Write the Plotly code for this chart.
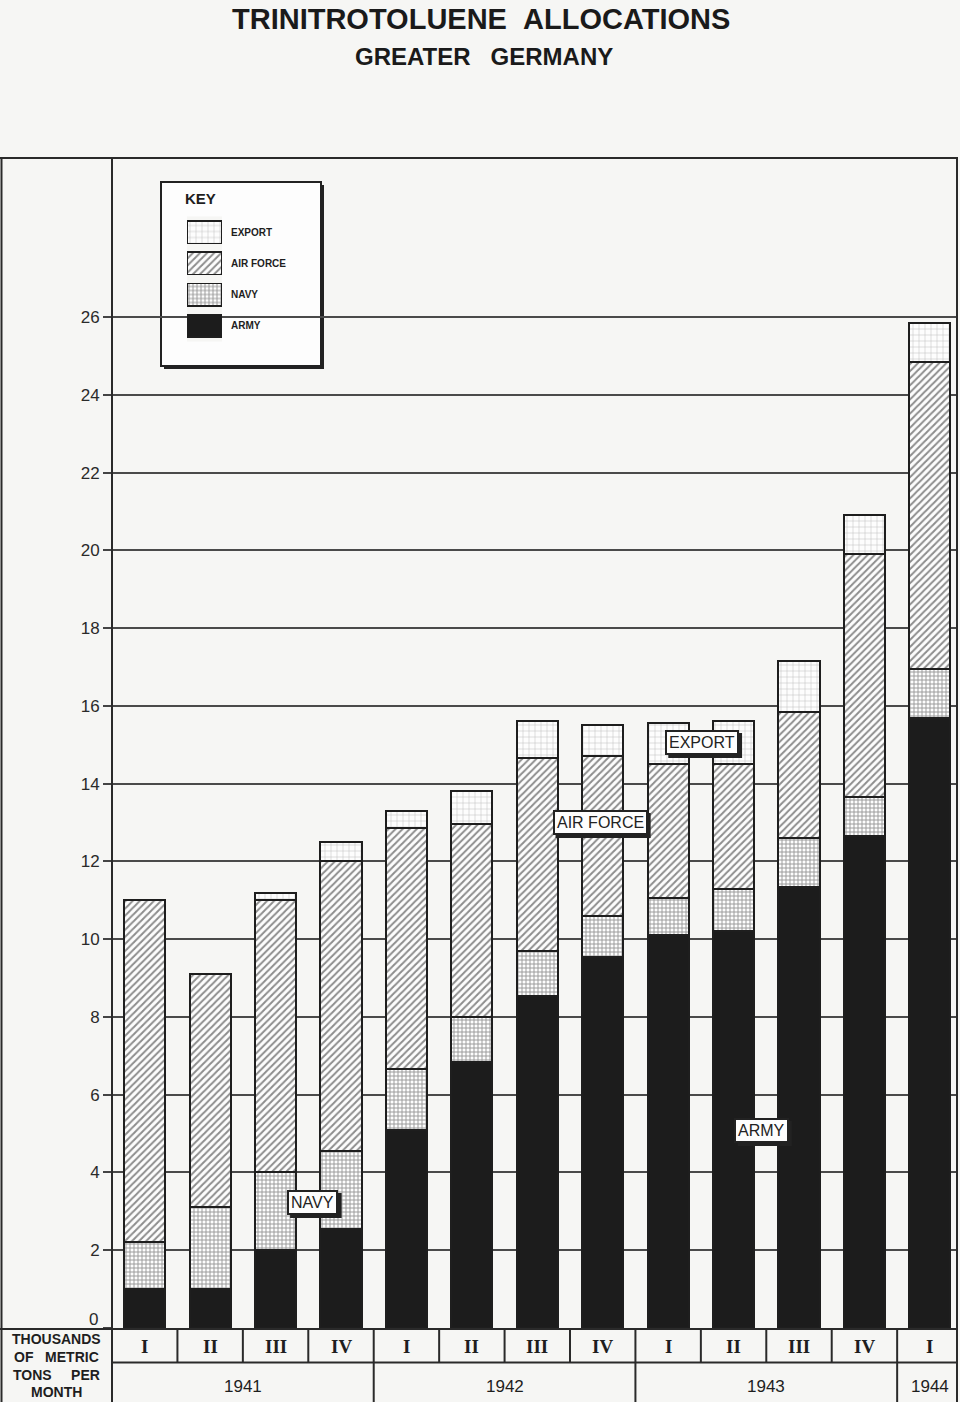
import plotly.graph_objects as go

# ---------------- data ----------------
quarters = ["I", "II", "III", "IV", "I", "II", "III", "IV", "I", "II", "III", "IV", "I"]
years = ["1941", "1942", "1943", "1944"]
year_quarter_counts = [4, 4, 4, 1]
army = [1.0, 1.0, 2.0, 2.55, 5.1, 6.85, 8.55, 9.55, 10.1, 10.2, 11.35, 12.65, 15.7]
navy = [1.2, 2.1, 2.0, 2.0, 1.55, 1.15, 1.15, 1.05, 0.95, 1.1, 1.25, 1.0, 1.25]
air_force = [8.8, 6.0, 7.0, 7.45, 6.2, 4.95, 4.95, 4.1, 3.45, 3.2, 3.25, 6.25, 7.9]
export = [0.0, 0.0, 0.2, 0.5, 0.45, 0.85, 0.95, 0.8, 1.05, 1.1, 1.3, 1.0, 1.0]
y_ticks = list(range(0, 27, 2))
series_names = ["ARMY", "NAVY", "AIR FORCE", "EXPORT"]
label_texts = ["NAVY", "AIR FORCE", "EXPORT", "ARMY"]
label_x = [2.57, 6.96, 8.52, 9.43]
label_y = [3.23, 13.0, 15.06, 5.08]

# ---------------- helpers ----------------
W, H = 960, 1402
def PX(x):
    return x / W
def PY(y):
    return 1 - y / H

INK = "#1e1e1e"
PAPER = "#f6f6f4"
FONT = "Liberation Sans"
LABEL_SIZE = 16
# approximate Arial advance widths (em) for the capitals used in the labels
CHAR_EM = {"A": .667, "I": .278, "R": .722, " ": .278, "F": .611, "O": .778, "C": .722, "E": .667,
           "X": .667, "P": .667, "T": .611, "N": .722, "V": .667, "Y": .667, "M": .833}

styles = {
    "ARMY": dict(color="#1c1c1c"),
    "NAVY": dict(color="#fdfdfd", pattern=dict(shape="+", fgcolor="#333333", bgcolor="#fdfdfd", size=4, solidity=0.42)),
    "AIR FORCE": dict(color="#fdfdfd", pattern=dict(shape="/", fgcolor="#1e1e1e", bgcolor="#fdfdfd", size=5, solidity=0.4)),
    "EXPORT": dict(color="#fdfdfd", pattern=dict(shape="+", fgcolor="#6a6a6a", bgcolor="#fdfdfd", size=6, solidity=0.14)),
}
values = {"ARMY": army, "NAVY": navy, "AIR FORCE": air_force, "EXPORT": export}

xs = list(range(len(quarters)))
fig = go.Figure()
for name in series_names:
    fig.add_trace(go.Bar(
        x=xs, y=values[name], name=name, width=0.63,
        marker=dict(line=dict(color=INK, width=2), **styles[name]),
        showlegend=False, hoverinfo="skip",
    ))

# custom key swatches
for name in series_names:
    fig.add_trace(go.Bar(
        x=[1], y=[name], orientation="h", xaxis="x2", yaxis="y2", width=0.72,
        marker=dict(line=dict(color=INK, width=1.5), **styles[name]),
        showlegend=False, hoverinfo="skip",
    ))

n = len(quarters)
x_right = 12.43
AX = 112
fig.update_layout(
    width=W, height=H, autosize=False,
    margin=dict(l=0, r=0, t=0, b=0, pad=0),
    paper_bgcolor=PAPER, plot_bgcolor=PAPER,
    barmode="stack", bargap=0.37,
    font=dict(family=FONT, color=INK),
    xaxis=dict(domain=[PX(AX), PX(958)], range=[-0.5, x_right], showticklabels=False,
               showgrid=False, zeroline=False, ticks="", fixedrange=True, automargin=False),
    yaxis=dict(domain=[PY(1328), PY(158)], range=[0, 30.09], tickvals=y_ticks,
               ticktext=[str(v) if v else "" for v in y_ticks],
               ticks="outside", ticklen=8, tickwidth=1.5, tickcolor="#444",
               tickfont=dict(size=17, family=FONT, color="#2a2a2a"),
               showgrid=True, gridcolor="#4a4a4a", gridwidth=1.6, zeroline=False,
               showline=False, automargin=False),
    xaxis2=dict(domain=[PX(187), PX(222)], range=[0, 1], visible=False, anchor="y2", automargin=False),
    yaxis2=dict(domain=[PY(341.5), PY(216.5)], anchor="x2", side="right", type="category",
                categoryorder="array", categoryarray=series_names, ticks="",
                showgrid=False, zeroline=False, showline=False, ticklabelstandoff=8, automargin=False,
                tickfont=dict(size=10, family=FONT, color=INK, weight="bold")),
)

shapes = []
line = dict(color="#2a2a2a", width=2)
# key box with shadow
shapes.append(dict(type="rect", xref="paper", yref="paper", x0=PX(164), x1=PX(324), y0=PY(369), y1=PY(185),
                   fillcolor="#222", line=dict(width=0), layer="between"))
shapes.append(dict(type="rect", xref="paper", yref="paper", x0=PX(161), x1=PX(321), y0=PY(366), y1=PY(182),
                   fillcolor="#fdfdfd", line=dict(color="#222", width=2), layer="between"))
# frame
shapes.append(dict(type="line", xref="paper", yref="paper", x0=0, x1=PX(958), y0=PY(158), y1=PY(158), line=line))
shapes.append(dict(type="line", xref="paper", yref="paper", x0=PX(1.5), x1=PX(1.5), y0=PY(158), y1=0, line=line))
shapes.append(dict(type="line", xref="paper", yref="paper", x0=PX(957), x1=PX(957), y0=PY(158), y1=0, line=line))
shapes.append(dict(type="line", xref="paper", yref="paper", x0=PX(AX), x1=PX(AX), y0=PY(158), y1=0, line=line))
# table horizontal lines
shapes.append(dict(type="line", xref="paper", yref="paper", x0=0, x1=PX(958), y0=PY(1329), y1=PY(1329), line=line))
shapes.append(dict(type="line", xref="paper", yref="paper", x0=PX(AX), x1=PX(958), y0=PY(1362.5), y1=PY(1362.5), line=line))
# quarter separators
for k in range(n - 1):
    shapes.append(dict(type="line", xref="x", yref="paper", x0=k + 0.5, x1=k + 0.5,
                       y0=PY(1329), y1=PY(1362.5), line=line))
# year separators
acc = 0
for c in year_quarter_counts[:-1]:
    acc += c
    shapes.append(dict(type="line", xref="x", yref="paper", x0=acc - 0.5, x1=acc - 0.5,
                       y0=PY(1362.5), y1=0, line=line))
# drop shadows behind the boxed in-chart labels (pixel-sized, anchored at the label)
for t, lx, ly in zip(label_texts, label_x, label_y):
    w = sum(CHAR_EM.get(ch, .667) for ch in t) * LABEL_SIZE + 8
    h = 25
    shapes.append(dict(type="rect", xref="x", yref="y", xsizemode="pixel", ysizemode="pixel",
                       xanchor=lx, yanchor=ly, x0=-w / 2 + 3, x1=w / 2 + 3, y0=-h / 2 - 3, y1=h / 2 - 3,
                       fillcolor="#222", line=dict(width=0), layer="above"))
fig.update_layout(shapes=shapes)

C = dict(xanchor="center", yanchor="middle", showarrow=False)
ann = []
ann.append(dict(text="TRINITROTOLUENE\u00a0\u00a0ALLOCATIONS", xref="paper", yref="paper", x=PX(481), y=PY(19),
                font=dict(size=29, family=FONT, color="#1a1a1a", weight="bold"), **C))
ann.append(dict(text="GREATER\u00a0\u00a0\u00a0GERMANY", xref="paper", yref="paper", x=PX(484), y=PY(56),
                font=dict(size=24, family=FONT, color="#1a1a1a", weight="bold"), **C))
ann.append(dict(text="KEY", xref="paper", yref="paper", x=PX(200), y=PY(198),
                font=dict(size=15, family=FONT, color=INK, weight="bold"), **C))
# zero tick label sits just above the table rule
ann.append(dict(text=str(y_ticks[0]), xref="paper", yref="paper", x=PX(93), y=PY(1319),
                font=dict(size=17, family=FONT, color="#2a2a2a"), **C))
# in-chart labels
for t, lx, ly in zip(label_texts, label_x, label_y):
    ann.append(dict(text=t, x=lx, y=ly, xref="x", yref="y",
                    bgcolor="#fdfdfd", bordercolor="#222", borderwidth=2, borderpad=2,
                    font=dict(size=LABEL_SIZE, family=FONT, color="#222"), **C))
# quarter labels
for i, q in enumerate(quarters):
    ann.append(dict(text=q, x=i, y=PY(1346), xref="x", yref="paper",
                    font=dict(size=19, family="Liberation Serif", color=INK, weight="bold"), **C))
# year labels
start = 0
for yr, c in zip(years, year_quarter_counts):
    ann.append(dict(text=yr, x=start + (c - 1) / 2, y=PY(1386), xref="x", yref="paper",
                    font=dict(size=17, family=FONT, color=INK), **C))
    start += c
# unit caption
unit_lines = ["THOUSANDS", "OF\u00a0\u00a0\u00a0METRIC", "TONS\u00a0\u00a0\u00a0\u00a0\u00a0PER", "MONTH"]
unit_y = [1339, 1357, 1375, 1392]
for tl, uy in zip(unit_lines, unit_y):
    ann.append(dict(text=tl, x=PX(56), y=PY(uy), xref="paper", yref="paper",
                    font=dict(size=14, family=FONT, color=INK, weight="bold"), **C))
fig.update_layout(annotations=ann)

fig.write_html("out.html")
